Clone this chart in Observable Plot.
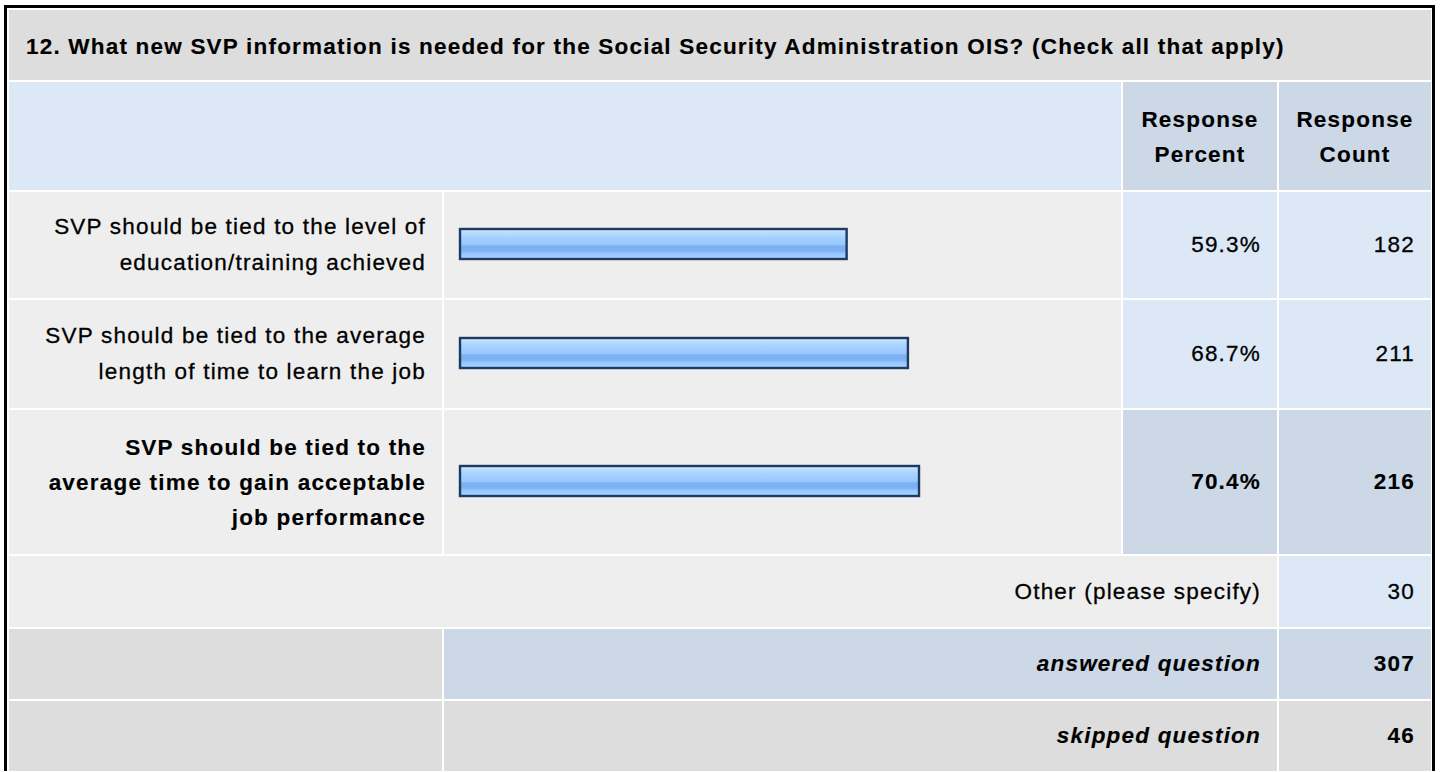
<!DOCTYPE html>
<html>
<head>
<meta charset="utf-8">
<script src="https://cdn.jsdelivr.net/npm/d3@7"></script>
<script src="https://cdn.jsdelivr.net/npm/@observablehq/plot@0.6"></script>
<style>
  html, body { margin: 0; padding: 0; background: #fff; width: 1440px; height: 772px; overflow: hidden; }
  body { font-family: "Liberation Sans", Arial, Helvetica, sans-serif; font-size: 22.5px; color: #000; letter-spacing: 1.2px; -webkit-text-stroke: 0.3px #000; }
  #frame { position: absolute; left: 4px; top: 5px; border: 3px solid #000; border-bottom: none; padding: 2px 1px 0 2px; background: #fff; }
  #grid { display: grid; grid-template-columns: 433px 677px 154px 152px; grid-template-rows: 70px 108px 106px 108px 144px 71px 70px 70px; gap: 2px; }
  .c { display: flex; align-items: center; box-sizing: border-box; white-space: nowrap; }
  .grey { background: #dddddd; }
  .light { background: #eeeeee; }
  .blue { background: #dce8f5; }
  .dblue { background: #ccd8e6; }
  .right { justify-content: flex-end; text-align: right; padding-right: 16px; }
  .center { justify-content: center; text-align: center; }
  .b { font-weight: bold; -webkit-text-stroke: 0.15px #000; }
  .i { font-style: italic; }
  .title { padding-left: 17px; padding-top: 4px; font-weight: bold; -webkit-text-stroke: 0.15px #000; }
  .hdr { font-weight: bold; line-height: 35px; padding-top: 2px; -webkit-text-stroke: 0.15px #000; }
  .lbl { line-height: 36px; }
  .lbl.b { line-height: 35px; }
  .plotcell { padding: 0; display: block; }
  .plotcell svg { display: block; }
</style>
</head>
<body>
<svg width="0" height="0" style="position:absolute">
  <defs>
    <linearGradient id="barGrad" x1="0" y1="0" x2="0" y2="1">
      <stop offset="0" stop-color="#d2e9ff"/>
      <stop offset="0.14" stop-color="#b6dbff"/>
      <stop offset="0.3" stop-color="#a3d0ff"/>
      <stop offset="0.52" stop-color="#97c8ff"/>
      <stop offset="0.56" stop-color="#7db1f1"/>
      <stop offset="0.74" stop-color="#7db1f1"/>
      <stop offset="0.8" stop-color="#92c5ff"/>
      <stop offset="1" stop-color="#abd5ff"/>
    </linearGradient>
  </defs>
</svg>
<div id="frame"><div id="grid"></div></div>
<script>
// ---- data ----
const questionTitle = "12. What new SVP information is needed for the Social Security Administration OIS? (Check all that apply)";
const headerPercent = ["Response", "Percent"];
const headerCount = ["Response", "Count"];
const answerLines = [
  ["SVP should be tied to the level of", "education/training achieved"],
  ["SVP should be tied to the average", "length of time to learn the job"],
  ["SVP should be tied to the", "average time to gain acceptable", "job performance"]
];
const responsePercent = [59.3, 68.7, 70.4];
const responseCount = [182, 211, 216];
const otherLabel = "Other (please specify)";
const otherCount = 30;
const summaryLabels = ["answered question", "skipped question"];
const summaryCounts = [307, 46];

// ---- layout helpers ----
const grid = document.getElementById("grid");
const rowHeights = [106, 108, 144];
function cell(cls, content, col, row, span) {
  const d = document.createElement("div");
  d.className = "c " + cls;
  d.style.gridColumn = span ? `${col} / span ${span}` : `${col}`;
  d.style.gridRow = `${row}`;
  if (typeof content === "string") d.innerHTML = content;
  else if (content) d.appendChild(content);
  grid.appendChild(d);
  return d;
}
const lines = arr => "<div>" + arr.join("<br>") + "</div>";

// title + header
cell("grey title", questionTitle, 1, 1, 4);
cell("blue", "", 1, 2, 2);
cell("dblue center hdr", lines(headerPercent), 3, 2);
cell("dblue center hdr", lines(headerCount), 4, 2);

// answer rows
const maxPct = d3.max(responsePercent);
answerLines.forEach((ln, i) => {
  const row = 3 + i;
  const hi = responsePercent[i] === maxPct;
  cell("light right lbl" + (hi ? " b" : ""), lines(ln), 1, row);
  const h = rowHeights[i];
  const mt = Math.round((h - 30) / 2) - 1;
  const chart = Plot.plot({
    width: 677,
    height: h,
    marginLeft: 16,
    marginRight: 9,
    marginTop: mt,
    marginBottom: h - 30 - mt,
    style: { background: "transparent" },
    x: { domain: [0, 100], axis: null },
    marks: [
      Plot.barX([responsePercent[i]], { x: d => d, fill: "url(#barGrad)", stroke: "#1e3a60", strokeWidth: 2.4 })
    ]
  });
  cell("light plotcell", chart, 2, row);
  cell((hi ? "dblue b" : "blue") + " right", responsePercent[i].toFixed(1) + "%", 3, row);
  cell((hi ? "dblue b" : "blue") + " right", String(responseCount[i]), 4, row);
});

// other row
cell("light right", otherLabel, 1, 6, 3);
cell("blue right", String(otherCount), 4, 6);

// summary rows
cell("grey", "", 1, 7);
cell("dblue right b i", summaryLabels[0], 2, 7, 2);
cell("dblue right b", String(summaryCounts[0]), 4, 7);
cell("grey", "", 1, 8);
cell("grey right b i", summaryLabels[1], 2, 8, 2);
cell("grey right b", String(summaryCounts[1]), 4, 8);
</script>
</body>
</html>
